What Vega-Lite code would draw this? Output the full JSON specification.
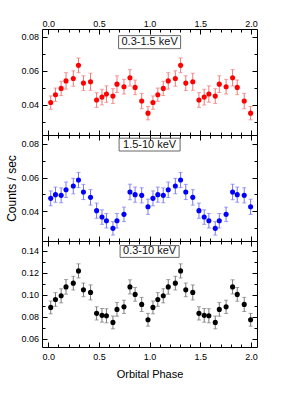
{
  "$schema": "https://vega.github.io/schema/vega-lite/v6.json",
  "padding": {"left": 5, "top": 16, "right": 5, "bottom": 5},
  "background": "white",
  "datasets": {
    "obs": [
      {"band": "soft", "phase": 0.024, "rate": 0.0414, "err": 0.0039},
      {"band": "soft", "phase": 0.071, "rate": 0.0460, "err": 0.0039},
      {"band": "soft", "phase": 0.127, "rate": 0.0497, "err": 0.0042},
      {"band": "soft", "phase": 0.175, "rate": 0.0541, "err": 0.0048},
      {"band": "soft", "phase": 0.247, "rate": 0.0555, "err": 0.0045},
      {"band": "soft", "phase": 0.298, "rate": 0.0632, "err": 0.0043},
      {"band": "soft", "phase": 0.347, "rate": 0.0528, "err": 0.0043},
      {"band": "soft", "phase": 0.417, "rate": 0.0536, "err": 0.0050},
      {"band": "soft", "phase": 0.477, "rate": 0.0429, "err": 0.0043},
      {"band": "soft", "phase": 0.530, "rate": 0.0446, "err": 0.0046},
      {"band": "soft", "phase": 0.574, "rate": 0.0464, "err": 0.0048},
      {"band": "soft", "phase": 0.638, "rate": 0.0452, "err": 0.0043},
      {"band": "soft", "phase": 0.678, "rate": 0.0522, "err": 0.0049},
      {"band": "soft", "phase": 0.747, "rate": 0.0507, "err": 0.0043},
      {"band": "soft", "phase": 0.806, "rate": 0.0559, "err": 0.0048},
      {"band": "soft", "phase": 0.857, "rate": 0.0503, "err": 0.0043},
      {"band": "soft", "phase": 0.922, "rate": 0.0423, "err": 0.0045},
      {"band": "soft", "phase": 0.984, "rate": 0.0352, "err": 0.0039},
      {"band": "soft", "phase": 1.033, "rate": 0.0414, "err": 0.0039},
      {"band": "soft", "phase": 1.081, "rate": 0.0460, "err": 0.0039},
      {"band": "soft", "phase": 1.135, "rate": 0.0497, "err": 0.0042},
      {"band": "soft", "phase": 1.184, "rate": 0.0541, "err": 0.0048},
      {"band": "soft", "phase": 1.254, "rate": 0.0555, "err": 0.0045},
      {"band": "soft", "phase": 1.306, "rate": 0.0632, "err": 0.0043},
      {"band": "soft", "phase": 1.357, "rate": 0.0528, "err": 0.0043},
      {"band": "soft", "phase": 1.426, "rate": 0.0536, "err": 0.0050},
      {"band": "soft", "phase": 1.487, "rate": 0.0429, "err": 0.0043},
      {"band": "soft", "phase": 1.539, "rate": 0.0446, "err": 0.0046},
      {"band": "soft", "phase": 1.585, "rate": 0.0464, "err": 0.0048},
      {"band": "soft", "phase": 1.648, "rate": 0.0452, "err": 0.0043},
      {"band": "soft", "phase": 1.688, "rate": 0.0522, "err": 0.0049},
      {"band": "soft", "phase": 1.755, "rate": 0.0507, "err": 0.0043},
      {"band": "soft", "phase": 1.819, "rate": 0.0559, "err": 0.0048},
      {"band": "soft", "phase": 1.865, "rate": 0.0503, "err": 0.0043},
      {"band": "soft", "phase": 1.934, "rate": 0.0423, "err": 0.0045},
      {"band": "soft", "phase": 1.997, "rate": 0.0352, "err": 0.0039},

      {"band": "hard", "phase": 0.024, "rate": 0.0477, "err": 0.0044},
      {"band": "hard", "phase": 0.071, "rate": 0.0499, "err": 0.0045},
      {"band": "hard", "phase": 0.127, "rate": 0.0495, "err": 0.0044},
      {"band": "hard", "phase": 0.175, "rate": 0.0528, "err": 0.0046},
      {"band": "hard", "phase": 0.247, "rate": 0.0550, "err": 0.0046},
      {"band": "hard", "phase": 0.298, "rate": 0.0586, "err": 0.0045},
      {"band": "hard", "phase": 0.347, "rate": 0.0515, "err": 0.0045},
      {"band": "hard", "phase": 0.417, "rate": 0.0483, "err": 0.0046},
      {"band": "hard", "phase": 0.477, "rate": 0.0404, "err": 0.0045},
      {"band": "hard", "phase": 0.530, "rate": 0.0366, "err": 0.0043},
      {"band": "hard", "phase": 0.574, "rate": 0.0344, "err": 0.0043},
      {"band": "hard", "phase": 0.638, "rate": 0.0299, "err": 0.0040},
      {"band": "hard", "phase": 0.678, "rate": 0.0344, "err": 0.0043},
      {"band": "hard", "phase": 0.747, "rate": 0.0382, "err": 0.0043},
      {"band": "hard", "phase": 0.806, "rate": 0.0515, "err": 0.0046},
      {"band": "hard", "phase": 0.857, "rate": 0.0499, "err": 0.0045},
      {"band": "hard", "phase": 0.922, "rate": 0.0495, "err": 0.0045},
      {"band": "hard", "phase": 0.984, "rate": 0.0427, "err": 0.0045},
      {"band": "hard", "phase": 1.033, "rate": 0.0477, "err": 0.0044},
      {"band": "hard", "phase": 1.081, "rate": 0.0499, "err": 0.0045},
      {"band": "hard", "phase": 1.135, "rate": 0.0495, "err": 0.0044},
      {"band": "hard", "phase": 1.184, "rate": 0.0528, "err": 0.0046},
      {"band": "hard", "phase": 1.254, "rate": 0.0550, "err": 0.0046},
      {"band": "hard", "phase": 1.306, "rate": 0.0586, "err": 0.0045},
      {"band": "hard", "phase": 1.357, "rate": 0.0515, "err": 0.0045},
      {"band": "hard", "phase": 1.426, "rate": 0.0483, "err": 0.0046},
      {"band": "hard", "phase": 1.487, "rate": 0.0404, "err": 0.0045},
      {"band": "hard", "phase": 1.539, "rate": 0.0366, "err": 0.0043},
      {"band": "hard", "phase": 1.585, "rate": 0.0344, "err": 0.0043},
      {"band": "hard", "phase": 1.648, "rate": 0.0299, "err": 0.0040},
      {"band": "hard", "phase": 1.688, "rate": 0.0344, "err": 0.0043},
      {"band": "hard", "phase": 1.755, "rate": 0.0382, "err": 0.0043},
      {"band": "hard", "phase": 1.819, "rate": 0.0515, "err": 0.0046},
      {"band": "hard", "phase": 1.865, "rate": 0.0499, "err": 0.0045},
      {"band": "hard", "phase": 1.934, "rate": 0.0495, "err": 0.0045},
      {"band": "hard", "phase": 1.997, "rate": 0.0427, "err": 0.0045},

      {"band": "total", "phase": 0.024, "rate": 0.0886, "err": 0.0058},
      {"band": "total", "phase": 0.071, "rate": 0.0958, "err": 0.0062},
      {"band": "total", "phase": 0.127, "rate": 0.0991, "err": 0.0064},
      {"band": "total", "phase": 0.175, "rate": 0.1072, "err": 0.0066},
      {"band": "total", "phase": 0.247, "rate": 0.1106, "err": 0.0062},
      {"band": "total", "phase": 0.298, "rate": 0.1217, "err": 0.0064},
      {"band": "total", "phase": 0.347, "rate": 0.1045, "err": 0.0062},
      {"band": "total", "phase": 0.417, "rate": 0.1022, "err": 0.0068},
      {"band": "total", "phase": 0.477, "rate": 0.0832, "err": 0.0060},
      {"band": "total", "phase": 0.530, "rate": 0.0814, "err": 0.0062},
      {"band": "total", "phase": 0.574, "rate": 0.0810, "err": 0.0064},
      {"band": "total", "phase": 0.638, "rate": 0.0750, "err": 0.0058},
      {"band": "total", "phase": 0.678, "rate": 0.0868, "err": 0.0062},
      {"band": "total", "phase": 0.747, "rate": 0.0891, "err": 0.0060},
      {"band": "total", "phase": 0.806, "rate": 0.1072, "err": 0.0064},
      {"band": "total", "phase": 0.857, "rate": 0.1004, "err": 0.0062},
      {"band": "total", "phase": 0.922, "rate": 0.0913, "err": 0.0064},
      {"band": "total", "phase": 0.984, "rate": 0.0774, "err": 0.0058},
      {"band": "total", "phase": 1.033, "rate": 0.0886, "err": 0.0058},
      {"band": "total", "phase": 1.081, "rate": 0.0958, "err": 0.0062},
      {"band": "total", "phase": 1.135, "rate": 0.0991, "err": 0.0064},
      {"band": "total", "phase": 1.184, "rate": 0.1072, "err": 0.0066},
      {"band": "total", "phase": 1.254, "rate": 0.1106, "err": 0.0062},
      {"band": "total", "phase": 1.306, "rate": 0.1217, "err": 0.0064},
      {"band": "total", "phase": 1.357, "rate": 0.1045, "err": 0.0062},
      {"band": "total", "phase": 1.426, "rate": 0.1022, "err": 0.0068},
      {"band": "total", "phase": 1.487, "rate": 0.0832, "err": 0.0060},
      {"band": "total", "phase": 1.539, "rate": 0.0814, "err": 0.0062},
      {"band": "total", "phase": 1.585, "rate": 0.0810, "err": 0.0064},
      {"band": "total", "phase": 1.648, "rate": 0.0750, "err": 0.0058},
      {"band": "total", "phase": 1.688, "rate": 0.0868, "err": 0.0062},
      {"band": "total", "phase": 1.755, "rate": 0.0891, "err": 0.0060},
      {"band": "total", "phase": 1.819, "rate": 0.1072, "err": 0.0064},
      {"band": "total", "phase": 1.865, "rate": 0.1004, "err": 0.0062},
      {"band": "total", "phase": 1.934, "rate": 0.0913, "err": 0.0064},
      {"band": "total", "phase": 1.997, "rate": 0.0774, "err": 0.0058}
    ],
    "labels": [
      {"band": "soft", "label": "0.3-1.5 keV"},
      {"band": "hard", "label": "1.5-10 keV"},
      {"band": "total", "label": "0.3-10 keV"}
    ]
  },
  "vconcat": [
    {
      "width": 215, "height": 106,
      "layer": [
        {
          "data": {"name": "obs"},
          "transform": [{"filter": "datum.band === 'soft'"}],
          "mark": {"type": "errorbar", "color": "#f27878", "thickness": 1, "ticks": {"size": 4, "thickness": 1}},
          "encoding": {
            "x": {"field": "phase", "type": "quantitative", "scale": {"domain": [-0.062, 2.06], "nice": false, "zero": false}, "axis": null},
            "y": {"field": "rate", "type": "quantitative", "scale": {"domain": [0.0224, 0.0845], "nice": false, "zero": false}, "axis": null},
            "yError": {"field": "err"}
          }
        },
        {
          "data": {"name": "obs"},
          "transform": [{"filter": "datum.band === 'soft'"}],
          "mark": {"type": "point", "filled": true, "size": 26, "color": "#ff0000", "opacity": 1},
          "encoding": {
            "x": {"field": "phase", "type": "quantitative", "title": null,
              "axis": {"orient": "top", "labelPadding": 6, "values": [0,0.1,0.2,0.3,0.4,0.5,0.6,0.7,0.8,0.9,1,1.1,1.2,1.3,1.4,1.5,1.6,1.7,1.8,1.9,2],
                "labelExpr": "abs(datum.value*2-round(datum.value*2))<0.001 ? format(datum.value,'.1f') : ''",
                "tickSize": {"condition": {"test": "abs(datum.value*2-round(datum.value*2))<0.001", "value": -5}, "value": -3}}},
            "y": {"field": "rate", "type": "quantitative", "title": null,
              "axis": {"orient": "left", "values": [0.03,0.04,0.05,0.06,0.07,0.08],
                "labelExpr": "abs(datum.value*50-round(datum.value*50))<0.01 ? format(datum.value,'.2f') : ''",
                "tickSize": {"condition": {"test": "abs(datum.value*50-round(datum.value*50))<0.01", "value": -5}, "value": -3}}}
          }
        },
        {
          "data": {"name": "labels"},
          "transform": [{"filter": "datum.band === 'soft'"}],
          "mark": {"type": "point", "shape": "M-1,-0.21L1,-0.21L1,0.21L-1,0.21Z", "filled": false, "size": 3844, "stroke": "#666666", "strokeWidth": 1, "opacity": 1},
          "encoding": {
            "x": {"datum": 1.0, "type": "quantitative",
              "axis": {"orient": "bottom", "title": null, "values": [0,0.1,0.2,0.3,0.4,0.5,0.6,0.7,0.8,0.9,1,1.1,1.2,1.3,1.4,1.5,1.6,1.7,1.8,1.9,2], "labels": false,
                "tickSize": {"condition": {"test": "abs(datum.value*2-round(datum.value*2))<0.001", "value": -5}, "value": -3}}},
            "y": {"datum": 0.0768, "type": "quantitative",
              "axis": {"orient": "right", "title": null, "values": [0.03,0.04,0.05,0.06,0.07,0.08], "labels": false,
                "tickSize": {"condition": {"test": "abs(datum.value*50-round(datum.value*50))<0.01", "value": -5}, "value": -3}}}
          }
        },
        {
          "data": {"name": "labels"},
          "transform": [{"filter": "datum.band === 'soft'"}],
          "mark": {"type": "text", "font": "Liberation Sans", "fontSize": 11, "color": "#111111", "baseline": "middle", "align": "center"},
          "encoding": {
            "x": {"datum": 1.0, "type": "quantitative", "axis": null},
            "y": {"datum": 0.0768, "type": "quantitative", "axis": null},
            "text": {"field": "label"}
          }
        }
      ],
      "resolve": {"axis": {"x": "independent", "y": "independent"}}
    },
    {
      "width": 215, "height": 106,
      "layer": [
        {
          "data": {"name": "obs"},
          "transform": [{"filter": "datum.band === 'hard'"}],
          "mark": {"type": "errorbar", "color": "#7878f2", "thickness": 1, "ticks": {"size": 4, "thickness": 1}},
          "encoding": {
            "x": {"field": "phase", "type": "quantitative", "scale": {"domain": [-0.062, 2.06], "nice": false, "zero": false}, "axis": null},
            "y": {"field": "rate", "type": "quantitative", "scale": {"domain": [0.0224, 0.0853], "nice": false, "zero": false}, "axis": null},
            "yError": {"field": "err"}
          }
        },
        {
          "data": {"name": "obs"},
          "transform": [{"filter": "datum.band === 'hard'"}],
          "mark": {"type": "point", "filled": true, "size": 26, "color": "#0000ff", "opacity": 1},
          "encoding": {
            "x": {"field": "phase", "type": "quantitative", "title": null,
              "axis": {"orient": "top", "values": [0,0.1,0.2,0.3,0.4,0.5,0.6,0.7,0.8,0.9,1,1.1,1.2,1.3,1.4,1.5,1.6,1.7,1.8,1.9,2], "labels": false,
                "tickSize": {"condition": {"test": "abs(datum.value*2-round(datum.value*2))<0.001", "value": -5}, "value": -3}}},
            "y": {"field": "rate", "type": "quantitative", "title": "Counts / sec",
              "axis": {"orient": "left", "values": [0.03,0.04,0.05,0.06,0.07,0.08],
                "labelExpr": "abs(datum.value*50-round(datum.value*50))<0.01 ? format(datum.value,'.2f') : ''",
                "tickSize": {"condition": {"test": "abs(datum.value*50-round(datum.value*50))<0.01", "value": -5}, "value": -3}}}
          }
        },
        {
          "data": {"name": "labels"},
          "transform": [{"filter": "datum.band === 'hard'"}],
          "mark": {"type": "point", "shape": "M-1,-0.21L1,-0.21L1,0.21L-1,0.21Z", "filled": false, "size": 3721, "stroke": "#666666", "strokeWidth": 1, "opacity": 1},
          "encoding": {
            "x": {"datum": 1.0, "type": "quantitative",
              "axis": {"orient": "bottom", "title": null, "values": [0,0.1,0.2,0.3,0.4,0.5,0.6,0.7,0.8,0.9,1,1.1,1.2,1.3,1.4,1.5,1.6,1.7,1.8,1.9,2], "labels": false,
                "tickSize": {"condition": {"test": "abs(datum.value*2-round(datum.value*2))<0.001", "value": -5}, "value": -3}}},
            "y": {"datum": 0.0796, "type": "quantitative",
              "axis": {"orient": "right", "title": null, "values": [0.03,0.04,0.05,0.06,0.07,0.08], "labels": false,
                "tickSize": {"condition": {"test": "abs(datum.value*50-round(datum.value*50))<0.01", "value": -5}, "value": -3}}}
          }
        },
        {
          "data": {"name": "labels"},
          "transform": [{"filter": "datum.band === 'hard'"}],
          "mark": {"type": "text", "font": "Liberation Sans", "fontSize": 11, "color": "#111111", "baseline": "middle", "align": "center"},
          "encoding": {
            "x": {"datum": 1.0, "type": "quantitative", "axis": null},
            "y": {"datum": 0.0796, "type": "quantitative", "axis": null},
            "text": {"field": "label"}
          }
        }
      ],
      "resolve": {"axis": {"x": "independent", "y": "independent"}}
    },
    {
      "width": 215, "height": 106,
      "layer": [
        {
          "data": {"name": "obs"},
          "transform": [{"filter": "datum.band === 'total'"}],
          "mark": {"type": "errorbar", "color": "#7a7a7a", "thickness": 1, "ticks": {"size": 4, "thickness": 1}},
          "encoding": {
            "x": {"field": "phase", "type": "quantitative", "scale": {"domain": [-0.062, 2.06], "nice": false, "zero": false}, "axis": null},
            "y": {"field": "rate", "type": "quantitative", "scale": {"domain": [0.0527, 0.1488], "nice": false, "zero": false}, "axis": null},
            "yError": {"field": "err"}
          }
        },
        {
          "data": {"name": "obs"},
          "transform": [{"filter": "datum.band === 'total'"}],
          "mark": {"type": "point", "filled": true, "size": 26, "color": "#000000", "opacity": 1},
          "encoding": {
            "x": {"field": "phase", "type": "quantitative", "title": "Orbital Phase",
              "axis": {"orient": "bottom", "labelPadding": 10, "values": [0,0.1,0.2,0.3,0.4,0.5,0.6,0.7,0.8,0.9,1,1.1,1.2,1.3,1.4,1.5,1.6,1.7,1.8,1.9,2],
                "labelExpr": "abs(datum.value*2-round(datum.value*2))<0.001 ? format(datum.value,'.1f') : ''",
                "tickSize": {"condition": {"test": "abs(datum.value*2-round(datum.value*2))<0.001", "value": -5}, "value": -3}}},
            "y": {"field": "rate", "type": "quantitative", "title": null,
              "axis": {"orient": "left", "values": [0.06,0.07,0.08,0.09,0.1,0.11,0.12,0.13,0.14],
                "labelExpr": "abs(datum.value*50-round(datum.value*50))<0.01 ? format(datum.value,'.2f') : ''",
                "tickSize": {"condition": {"test": "abs(datum.value*50-round(datum.value*50))<0.01", "value": -5}, "value": -3}}}
          }
        },
        {
          "data": {"name": "labels"},
          "transform": [{"filter": "datum.band === 'total'"}],
          "mark": {"type": "point", "shape": "M-1,-0.2L1,-0.2L1,0.2L-1,0.2Z", "filled": false, "size": 3481, "stroke": "#666666", "strokeWidth": 1, "opacity": 1},
          "encoding": {
            "x": {"datum": 1.0, "type": "quantitative",
              "axis": {"orient": "top", "title": null, "values": [0,0.1,0.2,0.3,0.4,0.5,0.6,0.7,0.8,0.9,1,1.1,1.2,1.3,1.4,1.5,1.6,1.7,1.8,1.9,2], "labels": false,
                "tickSize": {"condition": {"test": "abs(datum.value*2-round(datum.value*2))<0.001", "value": -5}, "value": -3}}},
            "y": {"datum": 0.1393, "type": "quantitative",
              "axis": {"orient": "right", "title": null, "values": [0.06,0.07,0.08,0.09,0.1,0.11,0.12,0.13,0.14], "labels": false,
                "tickSize": {"condition": {"test": "abs(datum.value*50-round(datum.value*50))<0.01", "value": -5}, "value": -3}}}
          }
        },
        {
          "data": {"name": "labels"},
          "transform": [{"filter": "datum.band === 'total'"}],
          "mark": {"type": "text", "font": "Liberation Sans", "fontSize": 11, "color": "#111111", "baseline": "middle", "align": "center"},
          "encoding": {
            "x": {"datum": 1.0, "type": "quantitative", "axis": null},
            "y": {"datum": 0.1393, "type": "quantitative", "axis": null},
            "text": {"field": "label"}
          }
        }
      ],
      "resolve": {"axis": {"x": "independent", "y": "independent"}}
    }
  ],
  "spacing": 0,
  "bounds": "flush",
  "config": {
    "view": {"stroke": "#000000", "strokeWidth": 1},
    "axis": {
      "grid": false,
      "domain": false,
      "tickColor": "#000000",
      "tickWidth": 1,
      "labelFont": "Liberation Sans",
      "labelFontSize": 9,
      "labelColor": "#000000",
      "labelPadding": 5,
      "labelOverlap": false,
      "labelFlush": false,
      "titleFont": "Liberation Sans",
      "titleFontSize": 11,
      "titleFontWeight": "normal",
      "titleColor": "#000000",
      "titlePadding": 5
    },
    "axisY": {"titleFontSize": 12, "labelPadding": 8.5, "titlePadding": 2}
  }
}
